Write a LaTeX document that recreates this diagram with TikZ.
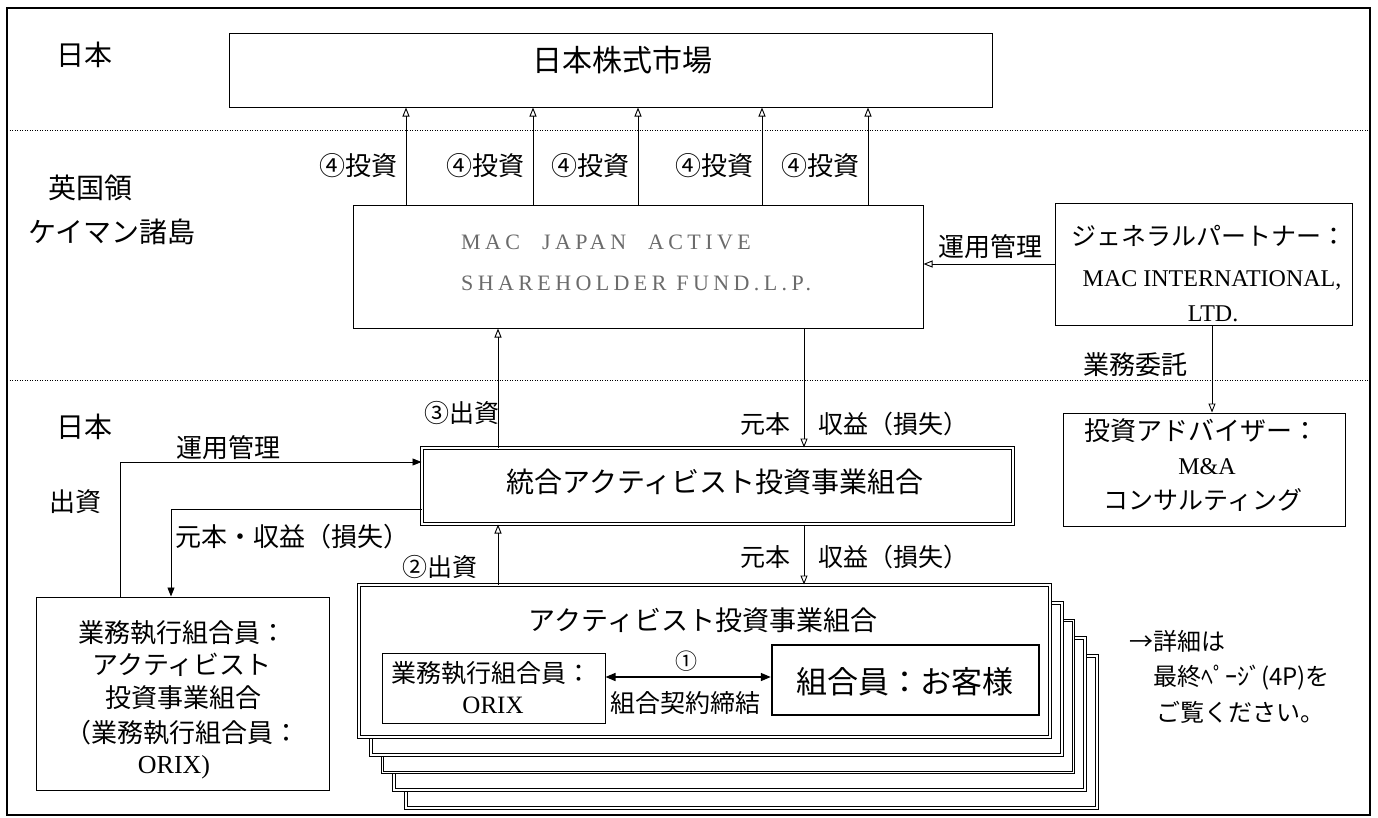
\documentclass[tikz,border=0pt]{standalone}
\usepackage{fontspec}
\setmainfont{Liberation Serif}
\newfontfamily\jp{Noto Sans CJK JP}
\newfontfamily\macf[LetterSpace=20]{Liberation Serif}
\usetikzlibrary{arrows.meta}
\newcommand\jf[1]{\jp\fontsize{#1}{#1}\selectfont}
\newcommand\lf[1]{\fontsize{#1}{#1}\selectfont}
\begin{document}
\begin{tikzpicture}[x=1pt,y=-1pt,
  box/.style={draw, line width=1pt, inner sep=0pt, fill=white},
  dbl/.style={draw, double, double distance=1.6pt, line width=1pt, inner sep=0pt, fill=white},
  t/.style={inner sep=0pt},
  arrO/.style={line width=0.9pt, -{Triangle[open, length=9pt, width=7pt]}},
  arrF/.style={line width=0.9pt, -{Triangle[length=9pt, width=7pt]}},
  dots/.style={line width=0.9pt, dash pattern=on 1pt off 1.5pt}]
\useasboundingbox (0,0) rectangle (1378,817);
% frame and region separators
\draw[line width=1.3pt] (7,8) rectangle (1370,815);
\draw[dots] (7,130) -- (1370,130);
\draw[dots] (7,380) -- (1370,380);
% region labels
\node[t, font=\jf{28}] (jp1) at (84,55) {日本};
\node[t, font=\jf{28}] (uk1) at (90,188) {英国領};
\node[t, font=\jf{28}] (uk2) at (112,232) {ケイマン諸島};
\node[t, font=\jf{28}] (jp2) at (84,427) {日本};
% market
\node[box, minimum width=763pt, minimum height=74pt] (mkt) at (610.5,70) {};
\node[t, font=\jf{30}] (mktt) at (622,60) {日本株式市場};
% MAC fund
\node[box, minimum width=570pt, minimum height=123pt] (mac) at (638,266.5) {};
\node[t, font=\macf\lf{22}, text=black!58, anchor=west] (mact1) at (461,242) {MAC\hspace{22pt}JAPAN\hspace{22pt}ACTIVE};
\node[t, font=\macf\lf{22}, text=black!58, anchor=west] (mact2) at (461,283) {SHAREHOLDER FUND.L.P.};
% investments
\foreach \x [count=\i] in {406,533,638,762,868} {
  \coordinate (ax\i) at (\x,0);
  \draw[arrO] (mac.north -| ax\i) -- (mkt.south -| ax\i);
  \node[t, font=\jf{26}, anchor=east] (inv\i) at (\x-8,166) {④投資};
}
% general partner
\node[box, minimum width=297pt, minimum height=122pt] (gp) at (1203.5,264) {};
\node[t, font=\jf{25}] (gp1) at (1209,236) {ジェネラルパートナー：};
\node[t, font=\lf{24}] (gp2) at (1212,280) {MAC INTERNATIONAL,};
\node[t, font=\lf{24}] (gp3) at (1213,314) {LTD.};
\draw[arrO] (gp.west) -- (gp.west -| mac.east);
\node[t, font=\jf{26}] (opm1) at (990,247) {運用管理};
% adviser
\node[box, minimum width=282pt, minimum height=113pt] (adv) at (1204,469.5) {};
\node[t, font=\jf{26}] (adv1) at (1201,431) {投資アドバイザー：};
\node[t, font=\lf{24}] (adv2) at (1207,467) {M\&A};
\node[t, font=\jf{25}] (adv3) at (1203,500) {コンサルティング};
\coordinate (gx) at (1212,0);
\draw[arrO] (gp.south -| gx) -- (adv.north -| gx);
\node[t, font=\jf{26}] (gyomu) at (1135,365) {業務委託};
% integrated fund
\node[dbl, minimum width=591pt, minimum height=76pt] (togo) at (717.5,486) {};
\node[t, font=\jf{28}] (togot) at (715,482) {統合アクティビスト投資事業組合};
\coordinate (cx1) at (498,0);
\coordinate (cx2) at (804,0);
\draw[arrO] (togo.north -| cx1) -- (mac.south -| cx1);
\node[t, font=\jf{25}] (sh3) at (462,413) {③出資};
\draw[arrO] (mac.south -| cx2) -- (togo.north -| cx2);
\node[t, font=\jf{25}] (g1) at (765,424) {元本};
\node[t, font=\jf{25}] (s1) at (893,424) {収益（損失）};
% stacked funds
\foreach \k in {4,3,2,1} {
  \node[dbl, minimum width=691pt, minimum height=152pt] (stk\k) at (704.5+11.7*\k,661+17.7*\k) {};
}
\node[dbl, minimum width=691pt, minimum height=152pt] (stk) at (704.5,661) {};
\node[t, font=\jf{27}] (stkt) at (703,620) {アクティビスト投資事業組合};
\draw[arrO] (stk.north -| cx1) -- (togo.south -| cx1);
\node[t, font=\jf{25}] (sh2) at (440,567) {②出資};
\draw[arrO] (togo.south -| cx2) -- (stk.north -| cx2);
\node[t, font=\jf{25}] (g2) at (765,557) {元本};
\node[t, font=\jf{25}] (s2) at (893,557) {収益（損失）};
% inner boxes
\node[box, minimum width=223pt, minimum height=70pt] (inl) at (493.5,688) {};
\node[t, font=\jf{25}] (inl1) at (491,673) {業務執行組合員：};
\node[t, font=\lf{25}] (inl2) at (493,705) {ORIX};
\node[box, line width=2.4pt, minimum width=267pt, minimum height=70pt] (inr) at (905.5,680) {};
\node[t, font=\jf{31}] (inrt) at (905,682) {組合員：お客様};
\coordinate (dy) at (0,677);
\draw[line width=1.5pt, {Triangle[length=10pt,width=8pt]}-{Triangle[length=10pt,width=8pt]}] (inl.east |- dy) -- (inr.west |- dy);
\node[t, font=\jf{22}] (n1) at (686,661) {①};
\node[t, font=\jf{25}] (kei) at (685,703) {組合契約締結};
% left box
\node[box, minimum width=293pt, minimum height=193pt] (lb) at (182.5,693.5) {};
\node[t, font=\jf{26}] (lb1) at (182,633) {業務執行組合員：};
\node[t, font=\jf{26}] (lb2) at (182,665) {アクティビスト};
\node[t, font=\jf{26}] (lb3) at (183,698) {投資事業組合};
\node[t, font=\jf{26}] (lb4) at (182,733) {（業務執行組合員：};
\node[t, font=\lf{26}] (lb5) at (174,767) {ORIX)};
\coordinate (lx1) at (120,462);
\coordinate (lx2) at (171,509);
\draw[arrF] (lb.north -| lx1) -- (lx1) -- (togo.west |- lx1);
\draw[arrF] (togo.west |- lx2) -- (lx2) -- (lb.north -| lx2);
\node[t, font=\jf{26}] (opm2) at (228,448) {運用管理};
\node[t, font=\jf{26}] (shl) at (75,502) {出資};
\node[t, font=\jf{26}] (gsl) at (292,537) {元本・収益（損失）};
% notes
\node[t, font=\jf{24}, anchor=west] (nt1) at (1129,641) {→詳細は};
\node[t, font=\jf{24}, anchor=west] (nt2) at (1153,678) {最終ﾍﾟｰｼﾞ(4P)を};
\node[t, font=\jf{24}, anchor=west] (nt3) at (1156,712) {ご覧ください。};
\end{tikzpicture}
\end{document}
